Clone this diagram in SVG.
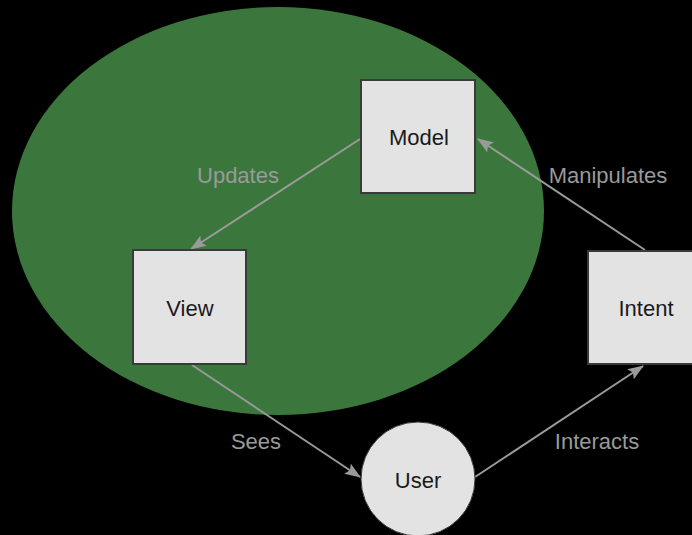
<svg xmlns="http://www.w3.org/2000/svg" width="692" height="535" viewBox="0 0 692 535">
  <defs>
    <style>
      .box { fill: #e3e3e3; stroke: #3a3a3a; stroke-width: 2; }
      .node-label { font-family: "Liberation Sans", Arial, sans-serif; font-size: 22px; fill: #1a1a1a; text-anchor: middle; dominant-baseline: central; }
      .edge { stroke: #9a9a9a; stroke-width: 2; fill: none; marker-end: url(#arrow); }
      .edge-label { font-family: "Liberation Sans", Arial, sans-serif; font-size: 22px; fill: #9a9a9a; text-anchor: middle; dominant-baseline: central; }
    </style>
    <marker id="arrow" viewBox="0 0 16 12" refX="15" refY="6" markerWidth="16" markerHeight="12" markerUnits="userSpaceOnUse" orient="auto">
      <path d="M0,0 L16,6 L0,12 L3,6 Z" fill="#9a9a9a"/>
    </marker>
  </defs>

  <rect width="692" height="535" fill="#000"/>

  <!-- region around model and view -->
  <ellipse id="region" cx="278" cy="211" rx="266" ry="204" fill="#3b773c"/>

  <g id="connectors">
    <line class="edge" x1="360" y1="139" x2="191" y2="249"/>
    <line class="edge" x1="645" y1="250" x2="478" y2="139"/>
    <line class="edge" x1="192" y1="365" x2="360" y2="477"/>
    <line class="edge" x1="475" y1="477" x2="643" y2="366"/>
    <text class="edge-label" x="238" y="175">Updates</text>
    <text class="edge-label" x="608" y="175">Manipulates</text>
    <text class="edge-label" x="256" y="441">Sees</text>
    <text class="edge-label" x="597" y="441">Interacts</text>
  </g>

  <g id="model">
    <rect class="box" x="361" y="80" width="114" height="113"/>
    <text class="node-label" x="419" y="137">Model</text>
  </g>

  <g id="view">
    <rect class="box" x="133" y="250" width="113" height="114"/>
    <text class="node-label" x="190" y="308">View</text>
  </g>

  <g id="intent">
    <rect class="box" x="588" y="251" width="116" height="113"/>
    <text class="node-label" x="646" y="308">Intent</text>
  </g>

  <g id="user">
    <circle cx="418" cy="479" r="57" fill="#e3e3e3" stroke="#3a3a3a" stroke-width="1"/>
    <text class="node-label" x="418" y="480">User</text>
  </g>
</svg>
